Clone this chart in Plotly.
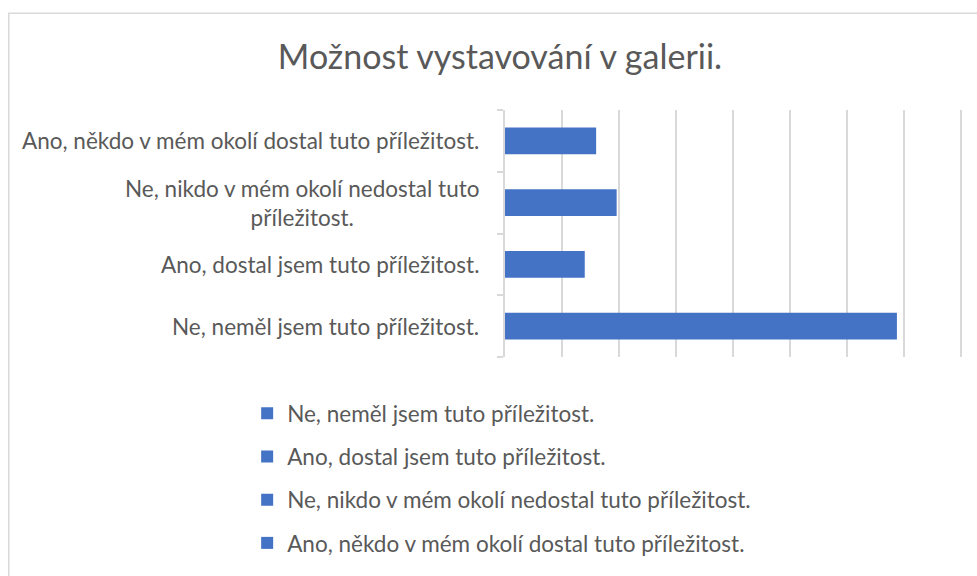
import plotly.graph_objects as go

categories = [
    "Ne, neměl jsem tuto příležitost.",
    "Ano, dostal jsem tuto příležitost.",
    "Ne, nikdo v mém okolí nedostal tuto příležitost.",
    "Ano, někdo v mém okolí dostal tuto příležitost.",
]
tick_labels = [
    "Ne, neměl jsem tuto příležitost.",
    "Ano, dostal jsem tuto příležitost.",
    "Ne, nikdo v mém okolí nedostal tuto<br>příležitost.",
    "Ano, někdo v mém okolí dostal tuto příležitost.",
]
values = [34.4, 7, 9.8, 8]

BLUE = "#4472C4"
GRID = "#D9D9D9"
TEXT = "#595959"
FONT = "Lato"

XMAX = 40.2
W, H = 977, 576
# plot area in screen coords
PL, PT, PB = 505, 110, 364
PR = PL + 456 * XMAX / 40
L, R, T, B = PL, W - PR, PT, H - PB
pw = PR - PL
ph = PB - PT

def px_x(x):
    return (x - PL) / pw

def px_y(y):
    return (PB - y) / ph

fig = go.Figure()
for i, (cat, v) in enumerate(zip(categories, values)):
    fig.add_trace(go.Bar(
        y=[cat], x=[v], orientation="h", name=cat,
        marker=dict(color=BLUE, line=dict(width=0)),
        width=0.43, legendgroup=f"g{i}",
    ))

for cat, lab in zip(categories, tick_labels):
    fig.add_annotation(
        x=px_x(481), xref="paper", xanchor="right",
        y=cat, yref="y", yanchor="middle",
        text=lab, showarrow=False, align="center",
        font=dict(family=FONT, size=22.5, color=TEXT),
    )

fig.add_shape(type="rect", xref="paper", yref="paper",
              x0=px_x(8.5), x1=px_x(1000), y0=px_y(600), y1=px_y(10.5),
              line=dict(color=GRID, width=1.5), fillcolor="rgba(0,0,0,0)", layer="below")

fig.update_layout(
    width=W, height=H,
    margin=dict(l=L, r=R, t=T, b=B),
    paper_bgcolor="white", plot_bgcolor="white",
    barmode="overlay",
    title=dict(text="Možnost vystavování v galerii.", xref="container", x=500 / W,
               xanchor="center", y=1 - 57 / H, yanchor="middle",
               font=dict(family=FONT, size=34, color=TEXT)),
    xaxis=dict(range=[0, XMAX], dtick=5, tick0=0, showgrid=True, gridcolor=GRID, gridwidth=1.5,
               showticklabels=False, zeroline=False, showline=False, fixedrange=True),
    yaxis=dict(type="category", categoryorder="array", categoryarray=categories,
               showticklabels=False, showline=True, linecolor=GRID, linewidth=1.5,
               ticks="outside", tickson="boundaries", ticklen=6, tickcolor=GRID, tickwidth=1.5,
               showgrid=False, zeroline=False),
    showlegend=True,
    legend=dict(x=px_x(247), xanchor="left", y=px_y(400), yanchor="top",
                orientation="v", traceorder="grouped", tracegroupgap=11,
                font=dict(family=FONT, size=22.5, color=TEXT), itemwidth=30,
                bgcolor="rgba(0,0,0,0)"),
)

fig.write_html(
    "out.html",
    config={"displayModeBar": False},
    post_script="document.body.style.margin='0';document.body.style.overflow='hidden';",
)
